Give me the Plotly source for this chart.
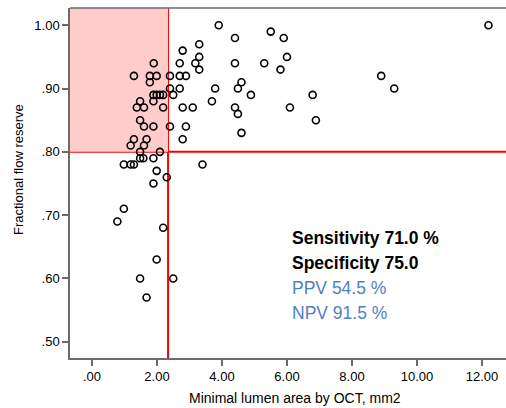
import plotly.graph_objects as go

# Minimal lumen area (mm2) and FFR
mla = [1.90, 1.29, 1.78, 1.99, 1.78, 1.89, 1.99, 2.09, 2.19, 1.48,
       1.89, 1.38, 1.60, 2.19, 1.48, 1.60, 1.89, 1.29, 1.68, 1.19,
       1.60, 1.48, 2.09, 1.48, 1.58, 1.89, 0.98, 1.19, 1.29, 1.99,
       2.30, 1.89, 0.98, 0.78, 2.19, 1.99, 1.48, 1.68,
       2.40, 2.40, 2.50, 2.70, 2.70, 2.89, 2.70, 2.79, 3.30, 3.30,
       3.18, 3.30, 2.79, 3.10, 2.40, 2.89, 2.79, 3.40, 2.50, 3.90,
       3.79, 3.69, 4.40, 4.40, 4.60, 4.49, 4.89, 4.40, 4.49, 4.60,
       5.50, 5.90, 5.30, 6.00, 5.80, 6.09, 6.79, 6.89, 8.90, 9.30,
       12.20]
ffr = [0.94, 0.92, 0.92, 0.92, 0.91, 0.89, 0.89, 0.89, 0.89, 0.88,
       0.88, 0.87, 0.87, 0.87, 0.85, 0.84, 0.84, 0.82, 0.82, 0.81,
       0.81, 0.80, 0.80, 0.79, 0.79, 0.79, 0.78, 0.78, 0.78, 0.77,
       0.76, 0.75, 0.71, 0.69, 0.68, 0.63, 0.60, 0.57,
       0.92, 0.90, 0.89, 0.90, 0.92, 0.92, 0.94, 0.96, 0.97, 0.95,
       0.94, 0.93, 0.87, 0.87, 0.84, 0.84, 0.82, 0.78, 0.60, 1.00,
       0.90, 0.88, 0.98, 0.94, 0.91, 0.90, 0.89, 0.87, 0.86, 0.83,
       0.99, 0.98, 0.94, 0.95, 0.93, 0.87, 0.89, 0.85, 0.92, 0.90,
       1.00]

x_ticks = [0, 2, 4, 6, 8, 10, 12]
x_ticktext = [".00", "2.00", "4.00", "6.00", "8.00", "10.00", "12.00"]
y_ticks = [0.5, 0.6, 0.7, 0.8, 0.9, 1.0]
y_ticktext = [".50", ".60", ".70", ".80", ".90", "1.00"]

cut_mla = 2.34
cut_ffr = 0.80
stats = ["Sensitivity 71.0 %", "Specificity 75.0", "PPV 54.5 %", "NPV 91.5 %"]
stat_colors = ["black", "black", "#4F81BD", "#4F81BD"]
stat_bold = [True, True, False, False]

xr = [-0.677, 12.74]
yr = [0.4743, 1.0273]

fig = go.Figure()

fig.add_trace(go.Scatter(
    x=mla, y=ffr, mode="markers",
    marker=dict(symbol="circle-open", size=7, color="black", line=dict(width=1.6, color="black")),
    showlegend=False, hoverinfo="x+y"
))

# shaded quadrant + cutoff lines
fig.add_shape(type="rect", xref="x", yref="y", x0=xr[0], x1=cut_mla, y0=cut_ffr, y1=yr[1],
              fillcolor="#FFCCCC", line=dict(width=0), layer="below")
fig.add_shape(type="line", xref="x", yref="paper", x0=cut_mla, x1=cut_mla, y0=0, y1=1,
              line=dict(color="red", width=2), layer="below")
fig.add_shape(type="line", xref="paper", yref="y", x0=0, x1=1, y0=cut_ffr, y1=cut_ffr,
              line=dict(color="red", width=2), layer="below")
# top frame line
fig.add_shape(type="line", xref="paper", yref="paper", x0=0, x1=1, y0=1, y1=1,
              line=dict(color="#6b6b6b", width=1.5))

for i, s in enumerate(stats):
    txt = "<b>%s</b>" % s if stat_bold[i] else s
    fig.add_annotation(x=(290 - 70) / 436.0, y=(358 - (238 + i * 25)) / 350.0,
                       xref="paper", yref="paper", xanchor="left", yanchor="middle",
                       text=txt, showarrow=False,
                       font=dict(family="Liberation Sans Narrow, Arial Narrow, Liberation Sans", size=17.5,
                                 color=stat_colors[i]))

# axis titles
fig.add_annotation(x=(295 - 70) / 436.0, y=(358 - 398) / 350.0, xref="paper", yref="paper",
                   xanchor="center", yanchor="middle",
                   text="Minimal lumen area by OCT, mm2", showarrow=False,
                   font=dict(family="Liberation Sans, Arial", size=14, color="black"))
fig.add_annotation(x=(18 - 70) / 436.0, y=(358 - 170) / 350.0, xref="paper", yref="paper",
                   xanchor="center", yanchor="middle",
                   text="Fractional flow reserve", showarrow=False, textangle=-90,
                   font=dict(family="Liberation Sans, Arial", size=13, color="black"))

axis_style = dict(showgrid=False, zeroline=False, showline=True, linecolor="#6b6b6b",
                  linewidth=1.5, ticks="outside", ticklen=6, tickcolor="#6b6b6b", tickwidth=1.5,
                  tickfont=dict(family="Liberation Sans, Arial", size=13, color="black"))

fig.update_xaxes(range=xr, tickvals=x_ticks, ticktext=x_ticktext, **axis_style)
fig.update_yaxes(range=yr, tickvals=y_ticks, ticktext=y_ticktext, **axis_style)

fig.update_layout(width=506, height=408, margin=dict(l=70, r=0, t=8, b=50),
                  plot_bgcolor="white", paper_bgcolor="white")

fig.write_html("out.html", config={"displayModeBar": False},
               post_script="document.body.style.margin='0';")
